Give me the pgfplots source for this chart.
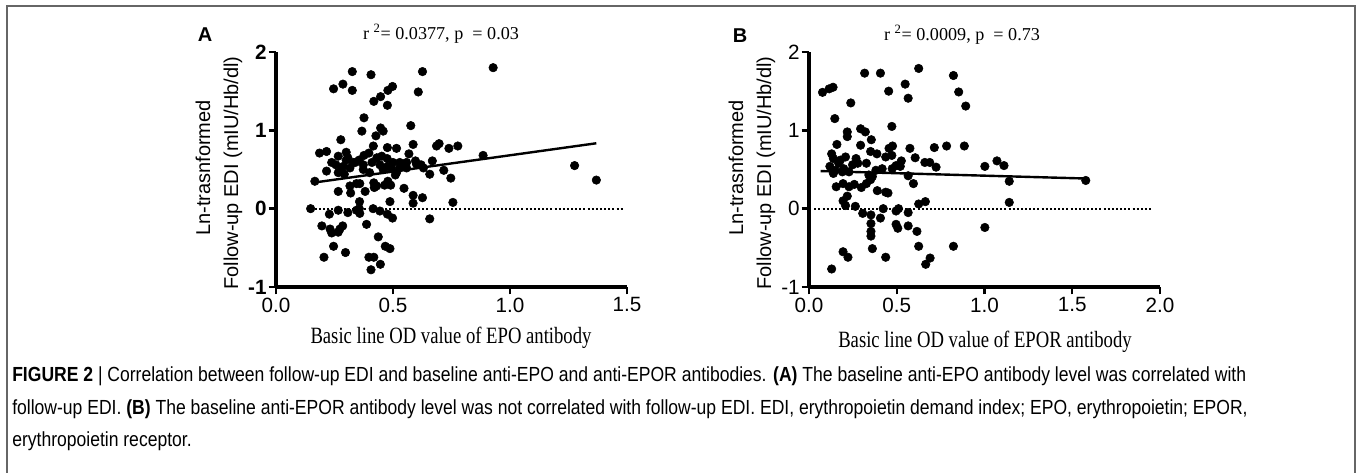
\documentclass[border=0pt]{standalone}
\usepackage{fontspec}
\usepackage{pgfplots}
\pgfplotsset{compat=1.18}
\usepackage{pgfplotstable}
\setmainfont{Liberation Sans}
\newfontfamily\timesf{Liberation Serif}
\newfontfamily\condserif[FakeStretch=0.80]{Liberation Serif}
\newfontfamily\condsans[FakeStretch=0.86]{Liberation Sans}

% panel A: baseline anti-EPO OD vs ln follow-up EDI
\pgfplotstableread{
x y
0.148 0.00
0.166 0.35
0.186 0.71
0.216 0.73
0.216 0.48
0.238 0.59
0.256 0.56
0.246 1.53
0.286 1.59
0.326 1.75
0.326 1.51
0.277 0.88
0.266 0.67
0.280 0.48
0.287 0.54
0.300 0.72
0.307 0.65
0.330 0.59
0.266 0.46
0.292 0.44
0.316 0.29
0.319 0.20
0.266 0.22
0.228 -0.07
0.266 -0.02
0.307 -0.05
0.196 -0.22
0.231 -0.26
0.238 -0.31
0.266 -0.30
0.285 -0.22
0.273 -0.26
0.246 -0.48
0.297 -0.56
0.205 -0.62
0.406 1.71
0.418 1.37
0.447 1.43
0.478 1.51
0.498 1.56
0.476 1.32
0.376 1.16
0.367 0.99
0.447 1.03
0.458 0.99
0.427 0.93
0.416 0.80
0.476 0.78
0.515 0.77
0.397 0.71
0.376 0.68
0.373 0.56
0.339 0.59
0.410 0.59
0.431 0.65
0.452 0.67
0.475 0.64
0.500 0.59
0.477 0.54
0.444 0.56
0.529 0.59
0.543 0.56
0.558 0.59
0.515 0.46
0.494 0.52
0.568 0.70
0.586 0.82
0.576 1.06
0.608 1.49
0.626 1.75
0.596 0.61
0.620 0.56
0.630 0.52
0.668 0.61
0.657 0.44
0.686 0.80
0.697 0.83
0.717 0.49
0.739 0.77
0.777 0.80
0.747 0.39
0.756 0.08
0.885 0.68
0.928 1.80
1.276 0.55
1.369 0.365
0.586 0.17
0.586 0.07
0.626 0.14
0.657 -0.13
0.547 0.26
0.344 0.32
0.358 0.32
0.381 0.22
0.418 0.33
0.430 0.29
0.420 0.27
0.464 0.30
0.478 0.35
0.490 0.30
0.487 0.09
0.357 0.09
0.356 0.00
0.344 -0.02
0.358 -0.06
0.415 0.00
0.444 -0.03
0.476 -0.07
0.498 -0.12
0.387 -0.20
0.437 -0.36
0.467 -0.48
0.487 -0.51
0.397 -0.62
0.418 -0.62
0.446 -0.71
0.406 -0.78
0.316 0.52
0.373 0.50
0.400 0.46
0.458 0.50
0.529 0.52
0.558 0.52
0.300 0.62
0.355 0.62
0.510 0.43
0.600 0.57
}\dataA

% panel B: baseline anti-EPOR OD vs ln follow-up EDI
\pgfplotstableread{
x y
0.077 1.485
0.115 1.53
0.137 1.55
0.147 1.15
0.238 1.35
0.317 1.73
0.407 1.73
0.548 1.59
0.565 1.41
0.625 1.79
0.454 1.50
0.823 1.70
0.853 1.49
0.893 1.31
0.129 0.70
0.159 0.82
0.218 0.98
0.218 0.92
0.294 1.02
0.321 0.98
0.294 0.81
0.355 0.88
0.472 1.05
0.351 0.73
0.387 0.70
0.437 0.66
0.456 0.77
0.476 0.80
0.472 0.68
0.575 0.77
0.605 0.65
0.660 0.59
0.688 0.59
0.714 0.78
0.724 0.53
0.784 0.80
0.885 0.80
1.002 0.54
1.071 0.61
1.111 0.55
1.141 0.35
1.141 0.08
1.002 -0.24
1.577 0.36
0.823 -0.48
0.690 -0.63
0.665 -0.71
0.625 -0.48
0.615 -0.29
0.565 -0.22
0.565 -0.05
0.496 -0.20
0.506 -0.25
0.496 -0.03
0.510 0.00
0.423 0.00
0.407 -0.12
0.437 -0.62
0.361 -0.51
0.353 -0.35
0.353 -0.29
0.353 -0.19
0.353 -0.08
0.306 -0.06
0.222 -0.62
0.194 -0.55
0.129 -0.77
0.264 0.03
0.208 0.04
0.218 0.16
0.194 0.10
0.228 0.28
0.194 0.32
0.155 0.28
0.258 0.31
0.298 0.27
0.327 0.32
0.351 0.37
0.389 0.23
0.437 0.21
0.450 0.20
0.595 0.32
0.565 0.42
0.625 0.06
0.663 0.09
0.474 0.51
0.520 0.54
0.526 0.61
0.496 0.55
0.327 0.58
0.278 0.58
0.268 0.64
0.208 0.66
0.198 0.51
0.139 0.64
0.119 0.54
0.139 0.45
0.169 0.58
0.228 0.47
0.248 0.56
0.361 0.41
0.341 0.43
0.381 0.49
0.417 0.51
0.179 0.62
0.190 0.47
0.149 0.49
}\dataB

\pgfplotsset{
  prism/.style={
    scale only axis, width=263.25pt, height=176.25pt,
    anchor=south west,
    axis lines=left, axis line style={-, line width=2.4pt},
    ymin=-1, ymax=2, ytick={-1,0,1,2}, yticklabels={-1,0,1,2},
    tick align=outside, major tick length=5.5pt,
    tick style={line width=1.8pt, black},
    ticklabel style={font=\fontsize{15.5}{16}\selectfont},
    xticklabel style={yshift=1pt},
    yticklabel style={xshift=2pt},
    clip=false,
  },
  dots/.style={only marks, mark=*, mark size=3.2pt, black},
}

\begin{document}
\begin{tikzpicture}[x=0.75pt, y=-0.75pt]
\useasboundingbox (0,0) rectangle (1357,472);
\draw[black!60, line width=1.2pt] (7,6) rectangle (1355,476);

% ---- A ----
\begin{axis}[prism, at={(207pt,-215.25pt)},
  xmin=0, xmax=1.5, xtick={0,0.5,1,1.5}, xticklabels={0.0,0.5,1.0,1.5},
  yticklabel style={font=\fontsize{15.5}{16}\selectfont\bfseries}]
  \addplot[black, line width=1.5pt, dash pattern=on 1.5pt off 1.6pt] coordinates {(0.148,0) (1.49,0)};
  \addplot[dots] table {\dataA};
  \addplot[black, line width=1.8pt] coordinates {(0.166,0.335) (1.369,0.835)};
\end{axis}

% ---- B ----
\begin{axis}[prism, at={(606.75pt,-215.25pt)},
  xmin=0, xmax=2, xtick={0,0.5,1,1.5,2}, xticklabels={0.0,0.5,1.0,1.5,2.0}]
  \addplot[black, line width=1.5pt, dash pattern=on 1.5pt off 1.6pt] coordinates {(0.03,0) (1.96,0)};
  \addplot[dots] table {\dataB};
  \addplot[black, line width=1.8pt] coordinates {(0.066,0.48) (1.578,0.385)};
\end{axis}

\begin{scope}[every node/.style={inner sep=0pt}]
\node[font=\fontsize{15}{16}\selectfont\bfseries] at (205,35) {A};
\node[font=\fontsize{15}{16}\selectfont\bfseries] at (740,36) {B};
\node[font=\fontsize{13.6}{16}\selectfont\timesf] at (441,34) {r \textsuperscript{2}= 0.0377, p\ \ = 0.03};
\node[font=\fontsize{13.6}{16}\selectfont\timesf] at (962,35) {r \textsuperscript{2}= 0.0009, p\ \ = 0.73};
\node[rotate=90, font=\fontsize{15}{16}\selectfont] at (203,168) {Ln-trasnformed};
\node[rotate=90, font=\fontsize{15}{16}\selectfont] at (233,173) {Follow-up EDI (mIU/Hb/dl)};
\node[rotate=90, font=\fontsize{15}{16}\selectfont] at (736,168) {Ln-trasnformed};
\node[rotate=90, font=\fontsize{15}{16}\selectfont] at (766,173) {Follow-up EDI (mIU/Hb/dl)};
\node[font=\fontsize{17.5}{18}\selectfont\condserif] at (451,338) {Basic line OD value of EPO antibody};
\node[font=\fontsize{17.5}{18}\selectfont\condserif] at (985,342) {Basic line OD value of EPOR antibody};
\node[anchor=base west, font=\fontsize{15.3}{17}\selectfont\condsans] at (12,381) {\textbf{FIGURE 2} | Correlation between follow-up EDI and baseline anti-EPO and anti-EPOR antibodies. \textbf{(A)} The baseline anti-EPO antibody level was correlated with};
\node[anchor=base west, font=\fontsize{15.3}{17}\selectfont\condsans] at (12,414) {follow-up EDI. \textbf{(B)} The baseline anti-EPOR antibody level was not correlated with follow-up EDI. EDI, erythropoietin demand index; EPO, erythropoietin; EPOR,};
\node[anchor=base west, font=\fontsize{15.3}{17}\selectfont\condsans] at (12,446) {erythropoietin receptor.};
\end{scope}
\end{tikzpicture}
\end{document}
